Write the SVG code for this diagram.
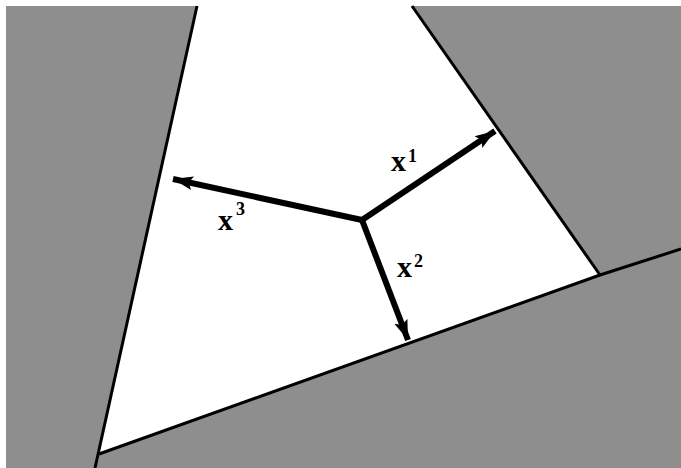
<svg xmlns="http://www.w3.org/2000/svg" width="681" height="468" viewBox="0 0 681 468">
<defs>
<marker id="head" markerUnits="userSpaceOnUse" markerWidth="22" markerHeight="16" viewBox="0 0 22 16" refX="20" refY="8" orient="auto">
<path d="M0,1 L20,8 L0,15 L4,8 Z" fill="#000"/>
</marker>
<style>
.edge{stroke:#000;stroke-width:3;fill:none;stroke-linejoin:miter}
.vec{stroke:#000;stroke-width:6;fill:none;stroke-linecap:butt}
.lbl{font-family:"Liberation Serif","Times New Roman",serif;font-weight:bold;font-size:30px;fill:#000}
.sup{font-size:18px}
</style>
</defs>
<rect width="681" height="468" fill="#ffffff"/>
<g id="shading">
<rect x="6" y="6" width="675" height="462" fill="#8e8e8e"/>
<polygon points="196,6 412,6 600,275 99,454" fill="#ffffff"/>
</g>
<g id="boundaries">
<line class="edge" x1="197" y1="6" x2="95" y2="468"/>
<line class="edge" x1="412" y1="6" x2="600" y2="275"/>
<polyline class="edge" points="99,454 600,275 681,249"/>
</g>
<g id="connectors">
<line class="vec" x1="362" y1="220" x2="495" y2="131" marker-end="url(#head)"/>
<line class="vec" x1="362" y1="220" x2="408" y2="340" marker-end="url(#head)"/>
<line class="vec" x1="362" y1="220" x2="173" y2="179" marker-end="url(#head)"/>
</g>
<g id="label-x1">
<text class="lbl" x="391" y="171">x<tspan class="sup" x="408" y="162">1</tspan></text>
</g>
<g id="label-x2">
<text class="lbl" x="397" y="277">x<tspan class="sup" x="414" y="267">2</tspan></text>
</g>
<g id="label-x3">
<text class="lbl" x="218" y="230">x<tspan class="sup" x="236" y="215">3</tspan></text>
</g>
</svg>
